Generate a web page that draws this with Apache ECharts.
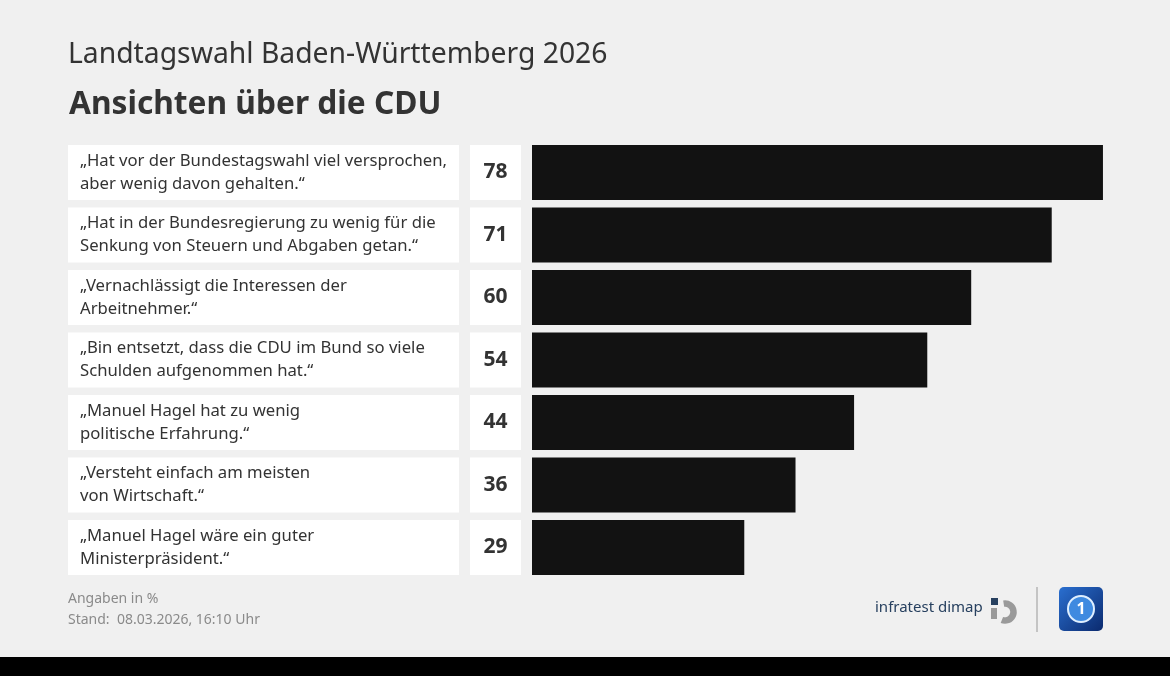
<!DOCTYPE html>
<html>
<head>
<meta charset="utf-8">
<script src="https://cdn.jsdelivr.net/npm/echarts@6/dist/echarts.min.js"></script>
<style>
  html, body { margin: 0; padding: 0; background: #f0f0f0; }
  #chart { width: 1170px; height: 676px; }
</style>
</head>
<body>
<div id="chart"></div>
<script>
// Aussagen (von oben nach unten) und Zustimmung in %
var statements = [
  '„Hat vor der Bundestagswahl viel versprochen,\naber wenig davon gehalten.“',
  '„Hat in der Bundesregierung zu wenig für die\nSenkung von Steuern und Abgaben getan.“',
  '„Vernachlässigt die Interessen der\nArbeitnehmer.“',
  '„Bin entsetzt, dass die CDU im Bund so viele\nSchulden aufgenommen hat.“',
  '„Manuel Hagel hat zu wenig\npolitische Erfahrung.“',
  '„Versteht einfach am meisten\nvon Wirtschaft.“',
  '„Manuel Hagel wäre ein guter\nMinisterpräsident.“'
];
var values = [78, 71, 60, 54, 44, 36, 29];

var FONT = '"Noto Sans", sans-serif';

var chart = echarts.init(document.getElementById('chart'));
chart.setOption({
  backgroundColor: '#f0f0f0',
  animation: false,
  textStyle: { fontFamily: FONT },
  title: [
    {
      text: 'Landtagswahl Baden-Württemberg 2026',
      left: 63, top: 36,
      textStyle: { fontSize: 28.3, fontWeight: 'normal', color: '#333', fontFamily: FONT }
    },
    {
      text: 'Ansichten über die CDU',
      left: 64, top: 84,
      textStyle: { fontSize: 31.7, fontWeight: 'bold', color: '#333', fontFamily: FONT }
    }
  ],
  grid: { left: 532, right: 52.4, top: 141.25, height: 437.5, outerBoundsMode: 'none', containLabel: false },
  xAxis: {
    type: 'value', min: 0, max: 80,
    show: false
  },
  yAxis: {
    type: 'category',
    data: statements,
    inverse: true,
    axisLine: { show: false },
    axisTick: { show: false },
    axisLabel: {
      margin: 464,
      align: 'left',
      verticalAlign: 'middle',
      backgroundColor: '#fff',
      width: 367,
      height: 55,
      padding: [0, 12],
      lineHeight: 23,
      fontSize: 16.7,
      color: '#333',
      fontFamily: FONT,
      overflow: 'none'
    }
  },
  series: [{
    type: 'bar',
    data: values,
    barWidth: 55,
    itemStyle: { color: '#121212' },
    label: {
      show: true,
      position: 'left',
      distance: 36.5,
      backgroundColor: '#fff',
      width: 51,
      height: 55,
      lineHeight: 58,
      align: 'center',
      fontSize: 21,
      fontWeight: 'bold',
      color: '#333',
      fontFamily: FONT
    }
  }],
  graphic: [
    { type: 'text', left: 68, top: 592,
      style: { text: 'Angaben in %', fontSize: 14, fill: '#8a8a8a', fontFamily: FONT } },
    { type: 'text', left: 68, top: 613,
      style: { text: 'Stand:  08.03.2026, 16:10 Uhr', fontSize: 14, fill: '#8a8a8a', fontFamily: FONT } },
    { type: 'text', left: 875, top: 600,
      style: { text: 'infratest dimap', fontSize: 15, fill: '#27405f', fontFamily: FONT } },
    // infratest dimap Signet
    { type: 'rect', shape: { x: 991, y: 598, width: 7, height: 7 }, style: { fill: '#27405f' } },
    { type: 'arc', shape: { cx: 1005, cy: 612, r: 8.5, startAngle: -Math.PI * 0.55, endAngle: Math.PI * 0.62 },
      style: { stroke: '#9a9a9a', lineWidth: 6.5, fill: null } },
    { type: 'rect', shape: { x: 991, y: 608, width: 6, height: 11 }, style: { fill: '#9a9a9a' } },
    { type: 'line', shape: { x1: 1037, y1: 587, x2: 1037, y2: 632 }, style: { stroke: '#c4c4c4', lineWidth: 2 } },
    // ARD Logo
    { type: 'rect', shape: { x: 1059, y: 587, width: 44, height: 44, r: 5 },
      style: { fill: new echarts.graphic.LinearGradient(0, 0, 1, 1, [
        { offset: 0, color: '#2a6fd0' }, { offset: 1, color: '#0b2a6e' }]) } },
    { type: 'circle', shape: { cx: 1081, cy: 609, r: 13 }, style: { fill: '#3f8ae0', stroke: '#dfefff', lineWidth: 2 } },
    { type: 'text', x: 1081, y: 609,
      style: { text: '1', fontSize: 16, fontWeight: 'bold', fill: '#fff', align: 'center', verticalAlign: 'middle', fontFamily: FONT } },
    // schwarzer Streifen unten
    { type: 'rect', shape: { x: 0, y: 657, width: 1170, height: 19 }, style: { fill: '#000' } }
  ]
});
</script>
</body>
</html>
